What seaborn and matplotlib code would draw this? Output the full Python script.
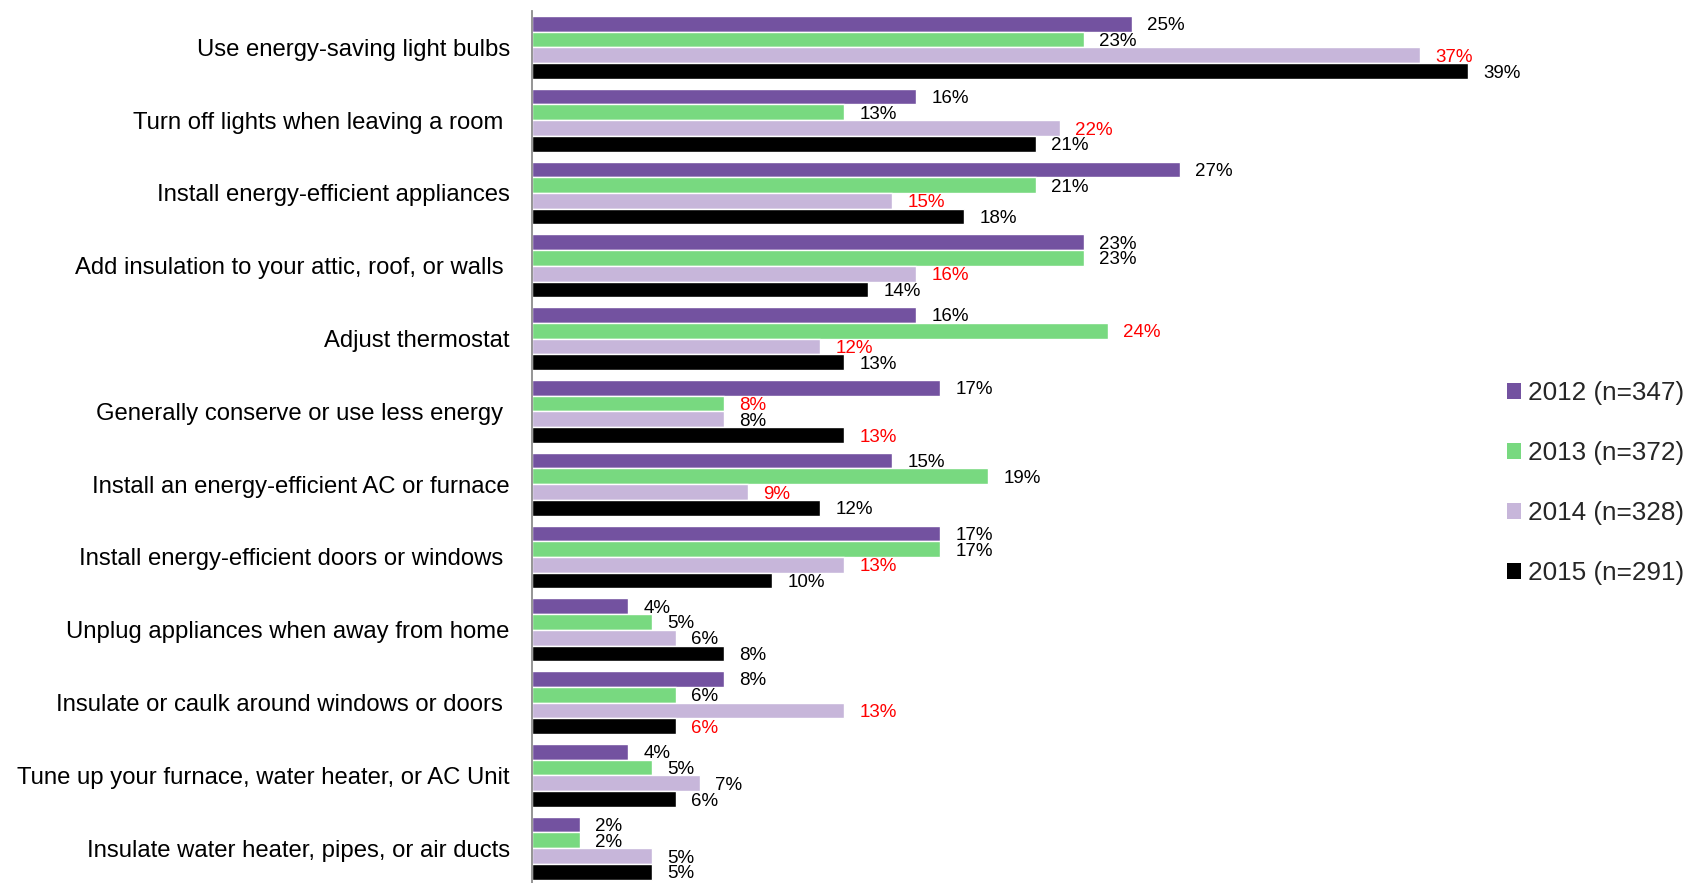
import matplotlib
matplotlib.use("Agg")
import matplotlib.pyplot as plt
from matplotlib.patches import Patch
import numpy as np
import pandas as pd
import seaborn as sns

categories = [
    "Use energy-saving light bulbs",
    "Turn off lights when leaving a room ",
    "Install energy-efficient appliances",
    "Add insulation to your attic, roof, or walls ",
    "Adjust thermostat",
    "Generally conserve or use less energy ",
    "Install an energy-efficient AC or furnace",
    "Install energy-efficient doors or windows ",
    "Unplug appliances when away from home",
    "Insulate or caulk around windows or doors ",
    "Tune up your furnace, water heater, or AC Unit",
    "Insulate water heater, pipes, or air ducts",
]
series_names = ["2012 (n=347)", "2013 (n=372)", "2014 (n=328)", "2015 (n=291)"]
v2012 = [25, 16, 27, 23, 16, 17, 15, 17, 4, 8, 4, 2]
v2013 = [23, 13, 21, 23, 24, 8, 19, 17, 5, 6, 5, 2]
v2014 = [37, 22, 15, 16, 12, 8, 9, 13, 6, 13, 7, 5]
v2015 = [39, 21, 18, 14, 13, 13, 12, 10, 8, 6, 6, 5]
# categories whose change is flagged (label shown in red)
flag2012 = []
flag2013 = [4, 5]
flag2014 = [0, 1, 2, 3, 4, 6, 7, 9]
flag2015 = [5, 9]

colors = ["#7352A0", "#78D980", "#C7B6DA", "#000000"]

values = [v2012, v2013, v2014, v2015]
flags = [flag2012, flag2013, flag2014, flag2015]

df = pd.DataFrame({
    "action": np.tile(categories, len(series_names)),
    "year": np.repeat(series_names, len(categories)),
    "pct": np.concatenate(values),
})

sns.set_style("white")
plt.rcParams["font.family"] = ["Liberation Sans", "DejaVu Sans"]

W, H = 1704, 883
fig = plt.figure(figsize=(W / 100, H / 100), dpi=100)
cat_h = 72.8
ax_top = 11
ax_h = cat_h * len(categories)
ax_left = 532
ax_w = 960
ax = fig.add_axes([ax_left / W, (H - ax_top - ax_h) / H, ax_w / W, ax_h / H])

sns.barplot(data=df, x="pct", y="action", hue="year", order=categories,
            hue_order=series_names, palette=colors, orient="h", width=0.865,
            saturation=1, ax=ax, legend=False, errorbar=None)

ax.set_xlim(0, ax_w / 24)
ax.set_ylim(len(categories) - 0.5, -0.5)
ax.set_xlabel("")
ax.set_ylabel("")
ax.set_xticks([])

for side in ["top", "right", "bottom"]:
    ax.spines[side].set_visible(False)
ax.spines["left"].set_color("#8C8C8C")
ax.spines["left"].set_linewidth(1.3)

ax.tick_params(axis="y", which="major", length=0, pad=16, labelsize=17.2,
               labelcolor="black")
ax.set_yticks(np.arange(-0.5, len(categories), 1.0), minor=True)
ax.tick_params(axis="y", which="minor", length=4.5, width=1.1, color="#8C8C8C")

for cont, vals, flg in zip(ax.containers, values, flags):
    texts = ax.bar_label(cont, labels=[f"{v}%" for v in vals], padding=11,
                         fontsize=13.5, clip_on=False)
    for i, t in enumerate(texts):
        t.set_color("#FF0000" if i in flg else "black")
        t.set_va("center_baseline")

handles = [Patch(facecolor=c, edgecolor="none", label=n)
           for c, n in zip(colors, series_names)]
fig.legend(handles=handles, loc="center left",
           bbox_to_anchor=(1507 / W, 1 - 483 / H), frameon=False,
           fontsize=18.8, handlelength=0.55, handleheight=0.55,
           handletextpad=0.25, labelspacing=1.38, borderpad=0,
           borderaxespad=0)

fig.savefig("out.png", dpi=100)
